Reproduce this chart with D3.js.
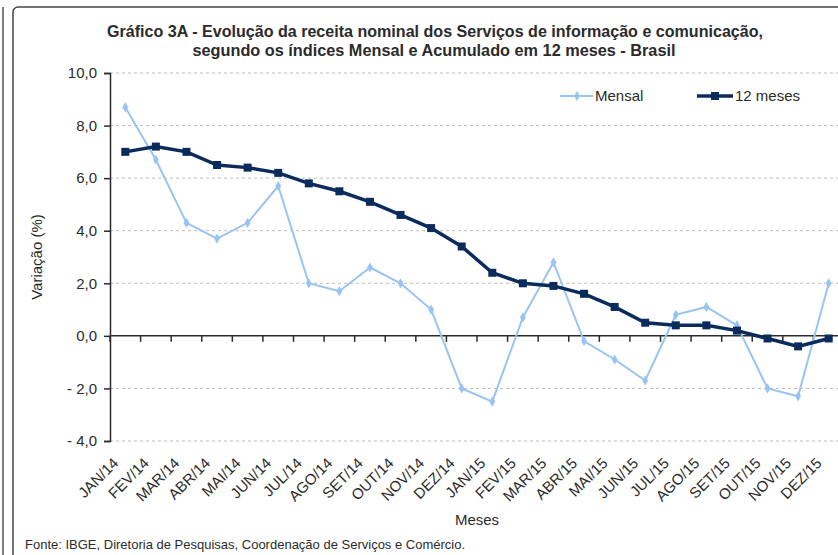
<!DOCTYPE html>
<html>
<head>
<meta charset="utf-8">
<script src="https://cdn.jsdelivr.net/npm/d3@7"></script>
<style>
  body { margin: 0; background: #fff; }
  svg { display: block; font-family: Arial, "Liberation Sans", sans-serif; }
</style>
</head>
<body>
<svg></svg>
<script>
'use strict';

// data
var months = ['JAN/14', 'FEV/14', 'MAR/14', 'ABR/14', 'MAI/14', 'JUN/14', 'JUL/14', 'AGO/14',
  'SET/14', 'OUT/14', 'NOV/14', 'DEZ/14', 'JAN/15', 'FEV/15', 'MAR/15', 'ABR/15', 'MAI/15',
  'JUN/15', 'JUL/15', 'AGO/15', 'SET/15', 'OUT/15', 'NOV/15', 'DEZ/15'];
var mensal = [8.7, 6.7, 4.3, 3.7, 4.3, 5.7, 2.0, 1.7, 2.6, 2.0, 1.0, -2.0,
  -2.5, 0.7, 2.8, -0.2, -0.9, -1.7, 0.8, 1.1, 0.4, -2.0, -2.3, 2.0];
var meses12 = [7.0, 7.2, 7.0, 6.5, 6.4, 6.2, 5.8, 5.5, 5.1, 4.6, 4.1, 3.4,
  2.4, 2.0, 1.9, 1.6, 1.1, 0.5, 0.4, 0.4, 0.2, -0.1, -0.4, -0.1];
var yTicks = [-4, -2, 0, 2, 4, 6, 8, 10];

var canvasWidth = 838;
var canvasHeight = 555;
var lightBlue = '#99c4f2';
var navy = '#0b2b5c';
var textColor = '#2b2b2b';

var svg = d3.select('svg')
  .attr('width', canvasWidth)
  .attr('height', canvasHeight);

// frame around the picture
svg.append('line')
  .attr('x1', 3).attr('x2', 3).attr('y1', 7).attr('y2', canvasHeight)
  .attr('stroke', '#555').attr('stroke-width', 1.5);
svg.append('rect')
  .attr('x', 13).attr('y', 7)
  .attr('width', 900).attr('height', 600)
  .attr('rx', 5)
  .attr('fill', 'none')
  .attr('stroke', '#444').attr('stroke-width', 1.5);

// scales
var xScale = d3.scaleBand()
  .domain(months)
  .range([110, 844]);
var yScale = d3.scaleLinear()
  .domain([-4, 10])
  .range([441, 73]);

function fmt(v) {
  var s = Math.abs(v).toFixed(1).replace('.', ',');
  return v < 0 ? '- ' + s : s;
}
function cx(d, i) { return xScale(months[i]) + xScale.bandwidth() / 2; }

// title
var title = svg.append('g')
  .attr('font-weight', 'bold')
  .attr('font-size', '16px')
  .attr('fill', textColor)
  .attr('text-anchor', 'middle');
title.append('text')
  .attr('x', 435).attr('y', 37)
  .attr('textLength', 656).attr('lengthAdjust', 'spacingAndGlyphs')
  .text('Gráfico 3A - Evolução da receita nominal dos Serviços de informação e comunicação,');
title.append('text')
  .attr('x', 434).attr('y', 56)
  .attr('textLength', 483).attr('lengthAdjust', 'spacingAndGlyphs')
  .text('segundo os índices Mensal e Acumulado em 12 meses - Brasil');

// gridlines
svg.append('g')
  .selectAll('line')
  .data(yTicks.filter(function(d) { return d !== 0; }))
  .enter()
  .append('line')
  .attr('x1', 110).attr('x2', canvasWidth)
  .attr('y1', function(d) { return yScale(d); })
  .attr('y2', function(d) { return yScale(d); })
  .attr('stroke', '#bdbdbd')
  .attr('stroke-dasharray', '3,3');

// y axis
var yAxis = svg.append('g')
  .attr('transform', 'translate(110,0)')
  .call(d3.axisLeft(yScale).tickValues(yTicks).tickSize(6).tickPadding(7).tickFormat(fmt));
yAxis.select('.domain').attr('stroke', textColor).attr('stroke-width', 1.5);
yAxis.selectAll('.tick line').attr('stroke', textColor).attr('stroke-width', 1.5);
yAxis.selectAll('.tick text')
  .attr('fill', textColor)
  .style('font-size', '15px')
  .style('font-family', 'Arial, "Liberation Sans", sans-serif');

// x axis at zero, ticks at category boundaries
svg.append('line')
  .attr('x1', 110).attr('x2', canvasWidth)
  .attr('y1', yScale(0)).attr('y2', yScale(0))
  .attr('stroke', textColor).attr('stroke-width', 1.5);
svg.append('g')
  .selectAll('line')
  .data(months)
  .enter()
  .append('line')
  .attr('x1', function(d) { return xScale(d); })
  .attr('x2', function(d) { return xScale(d); })
  .attr('y1', yScale(0)).attr('y2', yScale(0) + 6)
  .attr('stroke', textColor).attr('stroke-width', 1.5);

// month labels below the plot
svg.append('g')
  .selectAll('text')
  .data(months)
  .enter()
  .append('text')
  .attr('transform', function(d) {
    var x = xScale(d) + xScale.bandwidth() / 2 - 6;
    return 'translate(' + x + ',464) rotate(-45)';
  })
  .attr('text-anchor', 'end')
  .attr('font-size', '15px')
  .attr('fill', textColor)
  .text(function(d) { return d; });

// axis titles
svg.append('text')
  .attr('x', 477).attr('y', 525)
  .attr('text-anchor', 'middle')
  .attr('font-size', '15px')
  .attr('fill', textColor)
  .text('Meses');
svg.append('text')
  .attr('transform', 'translate(42,257) rotate(-90)')
  .attr('text-anchor', 'middle')
  .attr('font-size', '15px')
  .attr('fill', textColor)
  .text('Variação (%)');

// footer
svg.append('text')
  .attr('x', 25).attr('y', 549)
  .attr('font-size', '13px')
  .attr('fill', textColor)
  .text('Fonte: IBGE, Diretoria de Pesquisas, Coordenação de Serviços e Comércio.');

// lines
var line = d3.line()
  .x(cx)
  .y(function(d) { return yScale(d); });

svg.append('path')
  .datum(mensal)
  .attr('d', line)
  .attr('fill', 'none')
  .attr('stroke', lightBlue)
  .attr('stroke-width', 2);
svg.append('g')
  .selectAll('path')
  .data(mensal)
  .enter()
  .append('path')
  .attr('d', d3.symbol().type(d3.symbolDiamond).size(30))
  .attr('transform', function(d, i) { return 'translate(' + cx(d, i) + ',' + yScale(d) + ')'; })
  .attr('fill', lightBlue);

svg.append('path')
  .datum(meses12)
  .attr('d', line)
  .attr('fill', 'none')
  .attr('stroke', navy)
  .attr('stroke-width', 3.5);
svg.append('g')
  .selectAll('rect')
  .data(meses12)
  .enter()
  .append('rect')
  .attr('x', function(d, i) { return cx(d, i) - 4; })
  .attr('y', function(d) { return yScale(d) - 4; })
  .attr('width', 8).attr('height', 8)
  .attr('fill', navy);

// legend
var legend = svg.append('g').attr('font-size', '15px').attr('fill', textColor);
legend.append('line')
  .attr('x1', 560).attr('x2', 593).attr('y1', 96).attr('y2', 96)
  .attr('stroke', lightBlue).attr('stroke-width', 2);
legend.append('path')
  .attr('d', d3.symbol().type(d3.symbolDiamond).size(30))
  .attr('transform', 'translate(577,96)')
  .attr('fill', lightBlue);
legend.append('text').attr('x', 595).attr('y', 101).text('Mensal');
legend.append('line')
  .attr('x1', 697).attr('x2', 733).attr('y1', 96).attr('y2', 96)
  .attr('stroke', navy).attr('stroke-width', 3.5);
legend.append('rect')
  .attr('x', 711).attr('y', 92).attr('width', 8).attr('height', 8)
  .attr('fill', navy);
legend.append('text').attr('x', 735).attr('y', 101).text('12 meses');
</script>
</body>
</html>
